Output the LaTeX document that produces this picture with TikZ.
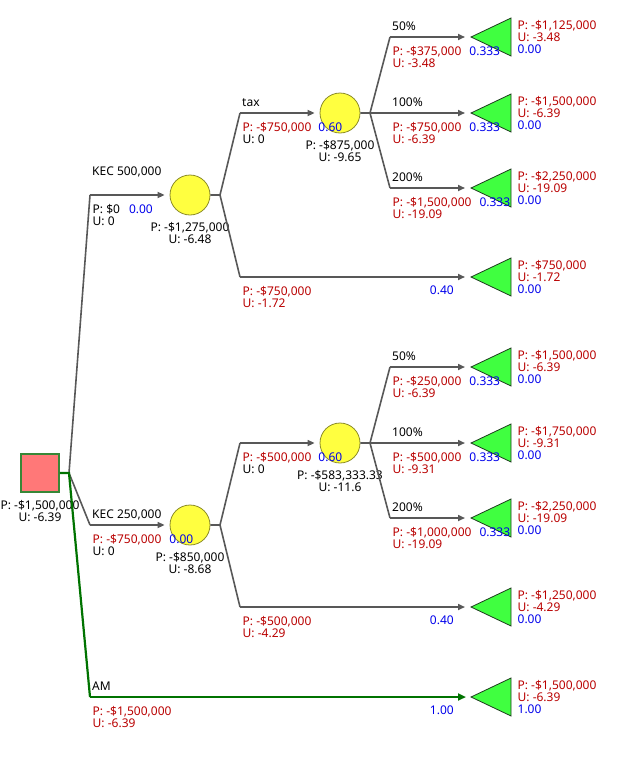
\documentclass[tikz,border=0pt]{standalone}
\usepackage{fontspec}
\setmainfont{Noto Sans}
\usepackage{tikz}
\usetikzlibrary{arrows.meta, positioning, shapes.geometric, calc}
\definecolor{pred}{RGB}{185,0,0}
\definecolor{pblue}{RGB}{0,0,235}
\definecolor{linegray}{RGB}{88,88,88}
\definecolor{chosengreen}{RGB}{0,115,0}
\definecolor{sqred}{RGB}{255,120,120}
\definecolor{sqgreen}{RGB}{55,135,55}
\definecolor{circyellow}{RGB}{255,255,64}
\definecolor{circline}{RGB}{140,140,40}
\definecolor{termgreen}{RGB}{64,255,64}
\definecolor{termline}{RGB}{30,60,30}

\begin{document}
\begin{tikzpicture}[x=1pt, y=-1pt,
    every node/.style={font=\fontsize{12}{12}\selectfont},
    decision/.style={rectangle, draw=sqgreen, line width=1.8pt, fill=sqred, minimum size=38pt, inner sep=0},
    chance/.style={circle, draw=circline, line width=0.8pt, fill=circyellow, minimum size=40pt, inner sep=0},
    payoff/.style={isosceles triangle, isosceles triangle stretches, shape border rotate=180, draw=termline, line width=0.8pt, fill=termgreen, minimum width=38pt, minimum height=40pt, inner sep=0, anchor=apex},
    stub/.style={draw=linegray, line width=1.6pt},
    branch/.style={draw=linegray, line width=1.6pt, -{Triangle[length=7pt, width=6pt]}, shorten >=5pt},
    chosen/.style={draw=chosengreen, line width=2.2pt},
    bname/.style={anchor=base west, inner sep=0},
    pu_text/.style={anchor=north west, inner sep=0, align=left},
    node_val/.style={below=7pt of #1, inner sep=0, align=center},
    prob/.style={anchor=north east, inner sep=0, text=pblue},
    term_val/.style={right=6pt of #1.east, inner sep=0, align=left}
]
    \useasboundingbox (0,0) rectangle (627,763);

    % Decision node and the three options
    \node[decision] (root) at (40,473) {};
    \node[node_val=root] (root_val) {P: -\$1,500,000\\U: -6.39};
    \coordinate (root_s) at (69,473);
    \coordinate (a_kec5) at (90,195);
    \coordinate (a_kec2) at (90,525);
    \coordinate (a_am) at (90,697);

    % Chance nodes
    \node[chance] (kec5) at (190,195) {};
    \node[chance] (kec2) at (190,525) {};
    \node[chance] (tax5) at (340,113) {};
    \node[chance] (tax2) at (340,443) {};
    \node[node_val=kec5] (kec5_val) {P: -\$1,275,000\\U: -6.48};
    \node[node_val=kec2] (kec2_val) {P: -\$850,000\\U: -8.68};
    \node[node_val=tax5] (tax5_val) {P: -\$875,000\\U: -9.65};
    \node[node_val=tax2] (tax2_val) {P: -\$583,333.33\\U: -11.6};

    % Stubs and corners behind the chance nodes
    \coordinate (kec5_s) at (220,195);
    \coordinate (kec2_s) at (220,525);
    \coordinate (tax5_s) at (370,113);
    \coordinate (tax2_s) at (370,443);
    \coordinate (b_tax5) at (240,113);
    \coordinate (b_no5) at (240,277);
    \coordinate (b_tax2) at (240,443);
    \coordinate (b_no2) at (240,607);
    \coordinate (c_50a) at (390,37);
    \coordinate (c_100a) at (390,113);
    \coordinate (c_200a) at (390,188);
    \coordinate (c_50b) at (390,367);
    \coordinate (c_100b) at (390,443);
    \coordinate (c_200b) at (390,518);

    % Payoff nodes
    \node[payoff] (t_50a) at (470,37) {};
    \node[payoff] (t_100a) at (470,113) {};
    \node[payoff] (t_200a) at (470,188) {};
    \node[payoff] (t_no5) at (470,277) {};
    \node[payoff] (t_50b) at (470,367) {};
    \node[payoff] (t_100b) at (470,443) {};
    \node[payoff] (t_200b) at (470,518) {};
    \node[payoff] (t_no2) at (470,607) {};
    \node[payoff] (t_am) at (470,697) {};

    \node[term_val=t_50a, text=pred] (t_50a_val) {P: -\$1,125,000\\U: -3.48\\\textcolor{pblue}{0.00}};
    \node[term_val=t_100a, text=pred] (t_100a_val) {P: -\$1,500,000\\U: -6.39\\\textcolor{pblue}{0.00}};
    \node[term_val=t_200a, text=pred] (t_200a_val) {P: -\$2,250,000\\U: -19.09\\\textcolor{pblue}{0.00}};
    \node[term_val=t_no5, text=pred] (t_no5_val) {P: -\$750,000\\U: -1.72\\\textcolor{pblue}{0.00}};
    \node[term_val=t_50b, text=pred] (t_50b_val) {P: -\$1,500,000\\U: -6.39\\\textcolor{pblue}{0.00}};
    \node[term_val=t_100b, text=pred] (t_100b_val) {P: -\$1,750,000\\U: -9.31\\\textcolor{pblue}{0.00}};
    \node[term_val=t_200b, text=pred] (t_200b_val) {P: -\$2,250,000\\U: -19.09\\\textcolor{pblue}{0.00}};
    \node[term_val=t_no2, text=pred] (t_no2_val) {P: -\$1,250,000\\U: -4.29\\\textcolor{pblue}{0.00}};
    \node[term_val=t_am, text=pred] (t_am_val) {P: -\$1,500,000\\U: -6.39\\\textcolor{pblue}{1.00}};

    % Connectors from the decision node
    \draw[stub] (root_s) -- (a_kec5);
    \draw[branch] (a_kec5) -- (kec5);
    \draw[stub] (root_s) -- (a_kec2);
    \draw[branch] (a_kec2) -- (kec2);
    \draw[chosen] (root.east) -- (root_s) -- (a_am);
    \draw[chosen, -{Triangle[length=8pt, width=7pt]}, shorten >=4pt] (a_am) -- (t_am.apex);

    % Connectors behind KEC 500,000
    \draw[stub] (kec5.east) -- (kec5_s) -- (b_tax5);
    \draw[branch] (b_tax5) -- (tax5);
    \draw[stub] (kec5_s) -- (b_no5);
    \draw[branch] (b_no5) -- (t_no5.apex);
    \draw[stub] (tax5.east) -- (tax5_s) -- (c_50a);
    \draw[branch] (c_50a) -- (t_50a.apex);
    \draw[branch] (tax5_s) -- (c_100a) -- (t_100a.apex);
    \draw[stub] (tax5_s) -- (c_200a);
    \draw[branch] (c_200a) -- (t_200a.apex);

    % Connectors behind KEC 250,000
    \draw[stub] (kec2.east) -- (kec2_s) -- (b_tax2);
    \draw[branch] (b_tax2) -- (tax2);
    \draw[stub] (kec2_s) -- (b_no2);
    \draw[branch] (b_no2) -- (t_no2.apex);
    \draw[stub] (tax2.east) -- (tax2_s) -- (c_50b);
    \draw[branch] (c_50b) -- (t_50b.apex);
    \draw[branch] (tax2_s) -- (c_100b) -- (t_100b.apex);
    \draw[stub] (tax2_s) -- (c_200b);
    \draw[branch] (c_200b) -- (t_200b.apex);

    % Branch names
    \node[bname] (n_kec5) at ([xshift=2pt, yshift=20pt]a_kec5) {KEC 500,000};
    \node[bname] (n_kec2) at ([xshift=2pt, yshift=6.5pt]a_kec2) {KEC 250,000};
    \node[bname] (n_am) at ([xshift=2pt, yshift=6.5pt]a_am) {AM};
    \node[bname] (n_tax5) at ([xshift=2pt, yshift=6.5pt]b_tax5) {tax};
    \node[bname] (n_50a) at ([xshift=2pt, yshift=6.5pt]c_50a) {50\%};
    \node[bname] (n_100a) at ([xshift=2pt, yshift=6.5pt]c_100a) {100\%};
    \node[bname] (n_200a) at ([xshift=2pt, yshift=6.5pt]c_200a) {200\%};
    \node[bname] (n_50b) at ([xshift=2pt, yshift=6.5pt]c_50b) {50\%};
    \node[bname] (n_100b) at ([xshift=2pt, yshift=6.5pt]c_100b) {100\%};
    \node[bname] (n_200b) at ([xshift=2pt, yshift=6.5pt]c_200b) {200\%};

    % Values under the branches
    \node[pu_text] (pu_kec5) at ([xshift=2.5pt, yshift=-9pt]a_kec5) {P: \$0\hspace{9pt}\textcolor{pblue}{0.00}\\U: 0};
    \node[pu_text] (pu_kec2) at ([xshift=2.5pt, yshift=-9pt]a_kec2) {\textcolor{pred}{P: -\$750,000}\hspace{8pt}\textcolor{pblue}{0.00}\\U: 0};
    \node[pu_text, text=pred] (pu_am) at ([xshift=2.5pt, yshift=-9pt]a_am) {P: -\$1,500,000\\U: -6.39};
    \node[pu_text] (pu_tax5) at ([xshift=2.5pt, yshift=-9pt]b_tax5) {\textcolor{pred}{P: -\$750,000}\hspace{7pt}\textcolor{pblue}{0.60}\\U: 0};
    \node[pu_text, text=pred] (pu_no5) at ([xshift=2.5pt, yshift=-9pt]b_no5) {P: -\$750,000\\U: -1.72};
    \node[pu_text] (pu_tax2) at ([xshift=2.5pt, yshift=-9pt]b_tax2) {\textcolor{pred}{P: -\$500,000}\hspace{7pt}\textcolor{pblue}{0.60}\\U: 0};
    \node[pu_text, text=pred] (pu_no2) at ([xshift=2.5pt, yshift=-9pt]b_no2) {P: -\$500,000\\U: -4.29};
    \node[pu_text, text=pred] (pu_50a) at ([xshift=2.5pt, yshift=-9pt]c_50a) {P: -\$375,000\hspace{8pt}\textcolor{pblue}{0.333}\\U: -3.48};
    \node[pu_text, text=pred] (pu_100a) at ([xshift=2.5pt, yshift=-9pt]c_100a) {P: -\$750,000\hspace{8pt}\textcolor{pblue}{0.333}\\U: -6.39};
    \node[pu_text, text=pred] (pu_200a) at ([xshift=2.5pt, yshift=-9pt]c_200a) {P: -\$1,500,000\hspace{8pt}\textcolor{pblue}{0.333}\\U: -19.09};
    \node[pu_text, text=pred] (pu_50b) at ([xshift=2.5pt, yshift=-9pt]c_50b) {P: -\$250,000\hspace{8pt}\textcolor{pblue}{0.333}\\U: -6.39};
    \node[pu_text, text=pred] (pu_100b) at ([xshift=2.5pt, yshift=-9pt]c_100b) {P: -\$500,000\hspace{8pt}\textcolor{pblue}{0.333}\\U: -9.31};
    \node[pu_text, text=pred] (pu_200b) at ([xshift=2.5pt, yshift=-9pt]c_200b) {P: -\$1,000,000\hspace{8pt}\textcolor{pblue}{0.333}\\U: -19.09};

    % Probabilities at the end of the long branches
    \node[prob] (pr_no5) at ([xshift=-16pt, yshift=-9pt]t_no5.apex) {0.40};
    \node[prob] (pr_no2) at ([xshift=-16pt, yshift=-9pt]t_no2.apex) {0.40};
    \node[prob] (pr_am) at ([xshift=-16pt, yshift=-9pt]t_am.apex) {1.00};

\end{tikzpicture}
\end{document}
